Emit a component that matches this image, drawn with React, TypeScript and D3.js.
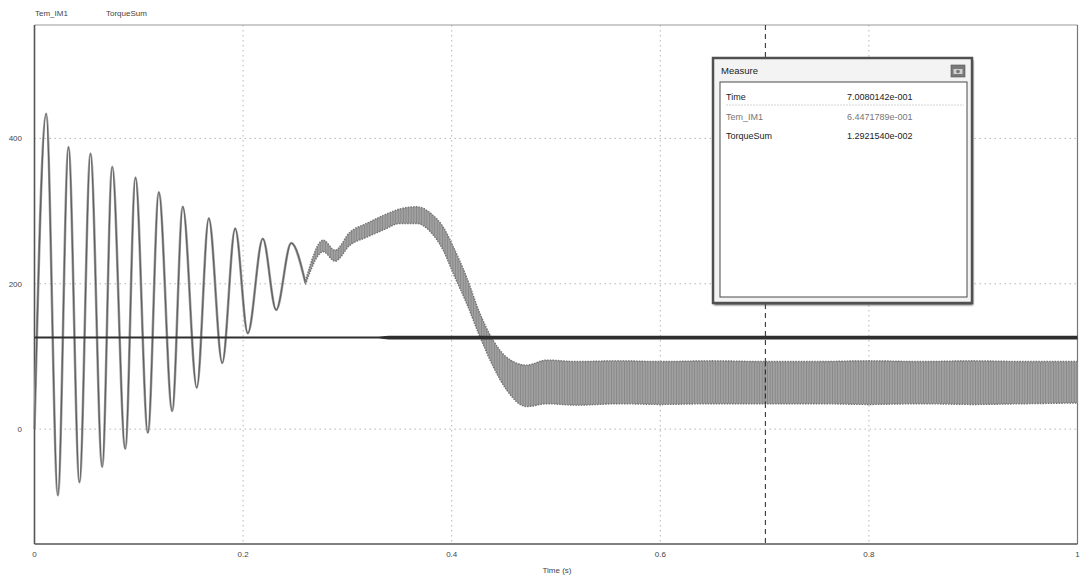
import React from "react";
import * as d3 from "d3";

// ---- data ----
const xTicks = [0, 0.2, 0.4, 0.6, 0.8, 1];
const xTickLabels = ["0", "0.2", "0.4", "0.6", "0.8", "1"];
const yTicks = [0, 200, 400];
const yTickLabels = ["0", "200", "400"];
const seriesNames = ["Tem_IM1", "TorqueSum"];

// Tem_IM1 start-up oscillation (extrema)
const oscTime = [0, 0.0112, 0.0224, 0.0326, 0.0431, 0.0537, 0.0649, 0.0745, 0.087, 0.0968, 0.1087, 0.1192, 0.132, 0.1422, 0.1556, 0.1671, 0.18, 0.1924, 0.2045, 0.2189, 0.2317, 0.2461, 0.2598];
const oscValue = [0, 434, -91, 388, -73, 379, -52, 361, -27, 346, -5, 326, 25, 306, 57, 290, 91, 276, 132, 262, 164, 256, 201];

// Tem_IM1 ripple band (upper / lower envelope)
const bandTime = [0.2598, 0.2769, 0.2881, 0.3024, 0.3184, 0.3344, 0.3504, 0.3664, 0.3823, 0.3919, 0.4015, 0.4143, 0.4271, 0.4398, 0.4526, 0.4718, 0.491, 0.52, 0.56, 0.6, 0.65, 0.7, 0.75, 0.8, 0.85, 0.9, 0.95, 1.0];
const bandHigh = [204, 260, 246, 271, 283, 294, 303, 306, 294, 278, 251, 209, 159, 122, 99, 88, 95, 93, 94, 93, 94, 93, 93, 94, 93, 94, 93, 93];
const bandLow = [199, 244, 231, 253, 264, 274, 283, 283, 267, 246, 214, 173, 127, 86, 54, 31, 35, 33, 35, 34, 35, 35, 35, 34, 35, 34, 35, 36];

// TorqueSum (nearly constant, thin then slightly thicker)
const tsTime = [0, 0.33, 0.34, 1.0];
const tsHigh = [127.6, 127.6, 128.4, 128.4];
const tsLow = [124.6, 124.6, 123.3, 123.3];

// cursor / measure window
const cursorTime = 0.7008;
const measureRows = ["Time", "Tem_IM1", "TorqueSum"];
const measureValues = ["7.0080142e-001", "6.4471789e-001", "1.2921540e-002"];

const W = 1085;
const H = 581;
const FONT = "'Liberation Sans', Arial, sans-serif";

export default function App() {
  const x = d3.scaleLinear().domain([0, 1]).range([34.5, 1077.5]);
  const y = d3.scaleLinear().domain([-158, 556]).range([544, 25]);

  const oscPts: [number, number][] = oscTime.map((t, i) => [t, oscValue[i]]);
  const line = d3
    .line<[number, number]>()
    .x((d) => x(d[0]))
    .y((d) => y(d[1]))
    .curve(d3.curveMonotoneX);

  const bandIdx = bandTime.map((_, i) => i);
  const area = d3
    .area<number>()
    .x((i) => x(bandTime[i]))
    .y0((i) => y(bandLow[i]))
    .y1((i) => y(bandHigh[i]))
    .curve(d3.curveMonotoneX);
  const upper = d3
    .line<number>()
    .x((i) => x(bandTime[i]))
    .y((i) => y(bandHigh[i]))
    .curve(d3.curveMonotoneX);
  const lower = d3
    .line<number>()
    .x((i) => x(bandTime[i]))
    .y((i) => y(bandLow[i]))
    .curve(d3.curveMonotoneX);

  const tsIdx = tsTime.map((_, i) => i);
  const tsArea = d3
    .area<number>()
    .x((i) => x(tsTime[i]))
    .y0((i) => y(tsLow[i]))
    .y1((i) => y(tsHigh[i]));

  const [x0, x1] = x.range();
  const [yb, yt] = y.range();

  // measure box geometry
  const bx = 713, by = 58, bw = 259, bh = 245;
  const ix = 720, iy = 82, iw = 247, ih = 215;

  return (
    <svg
      width={W}
      height={H}
      style={{ position: "absolute", left: 0, top: 0, background: "#fff" }}
      fontFamily={FONT}
    >
      <defs>
        <pattern id="ripple" width="2.6" height="5" patternUnits="userSpaceOnUse">
          <rect width="2.6" height="5" fill="#a0a0a0" />
          <rect x="0" width="0.8" height="5" fill="#858585" />
        </pattern>
        <filter id="shadow" x="-10%" y="-10%" width="120%" height="120%">
          <feGaussianBlur stdDeviation="1.2" />
        </filter>
      </defs>
      <rect width={W} height={H} fill="#fff" />

      {/* legend */}
      {seriesNames.map((s, i) => (
        <text key={s} x={i === 0 ? 35 : 106} y={16} fontSize={8} fill="#444">
          {s}
        </text>
      ))}

      {/* grid */}
      {xTicks.slice(1, -1).map((t) => (
        <line key={"gx" + t} x1={x(t)} x2={x(t)} y1={yt} y2={yb} stroke="#b5b5b5" strokeWidth={1} strokeDasharray="1.5,3.5" />
      ))}
      {yTicks.map((v) => (
        <line key={"gy" + v} x1={x0} x2={x1} y1={y(v)} y2={y(v)} stroke="#b5b5b5" strokeWidth={1} strokeDasharray="1.5,3.5" />
      ))}

      {/* frame */}
      <line x1={x0} x2={x1} y1={yt} y2={yt} stroke="#999" strokeWidth={1} />
      <line x1={x1} x2={x1} y1={yt} y2={yb} stroke="#777" strokeWidth={1.2} />
      <line x1={x0} x2={x0} y1={yt} y2={yb} stroke="#555" strokeWidth={1.6} />
      <line x1={x0} x2={x1} y1={yb} y2={yb} stroke="#555" strokeWidth={1.6} />

      {/* cursor */}
      <line x1={x(cursorTime)} x2={x(cursorTime)} y1={yt} y2={yb} stroke="#444" strokeWidth={1.2} strokeDasharray="5,4" />

      {/* Tem_IM1 oscillation */}
      <path d={line(oscPts) || ""} fill="none" stroke="#a2a2a2" strokeWidth={2.6} />
      <path d={line(oscPts) || ""} fill="none" stroke="#606060" strokeWidth={1.2} />

      {/* Tem_IM1 ripple band */}
      <path d={area(bandIdx) || ""} fill="url(#ripple)" />
      <path d={upper(bandIdx) || ""} fill="none" stroke="#737373" strokeWidth={1.4} strokeDasharray="1.5,1.2" />
      <path d={lower(bandIdx) || ""} fill="none" stroke="#737373" strokeWidth={1.4} strokeDasharray="1.5,1.2" />

      {/* TorqueSum */}
      <path d={tsArea(tsIdx) || ""} fill="#2e2e2e" />

      {/* cursor over the band */}
      <line x1={x(cursorTime)} x2={x(cursorTime)} y1={y(bandHigh[21])} y2={y(bandLow[21])} stroke="#333" strokeWidth={1.2} strokeDasharray="5,3" />

      {/* tick labels */}
      {yTicks.map((v, i) => (
        <text key={"yl" + v} x={22} y={y(v) + 3} fontSize={8} fill="#444" textAnchor="end">
          {yTickLabels[i]}
        </text>
      ))}
      {xTicks.map((t, i) => (
        <text key={"xl" + t} x={x(t)} y={557} fontSize={8} fill="#444" textAnchor="middle">
          {xTickLabels[i]}
        </text>
      ))}
      <text x={557} y={573} fontSize={8} fill="#444" textAnchor="middle">
        Time (s)
      </text>

      {/* measure window */}
      <rect x={bx + 1} y={by + 2} width={bw} height={bh} fill="#444" filter="url(#shadow)" />
      <rect x={bx} y={by} width={bw} height={bh} fill="#f3f3f3" stroke="#505050" strokeWidth={2.5} />
      <text x={721} y={74} fontSize={9.5} fill="#222">
        Measure
      </text>
      <rect x={951} y={65} width={14} height={12} fill="#7a7a7a" stroke="#555" strokeWidth={0.6} />
      <rect x={953.5} y={69} width={9} height={5} fill="#d0d0d0" />
      <circle cx={958} cy={71.5} r={1.8} fill="#777" />
      <rect x={ix} y={iy} width={iw} height={ih} fill="#fff" stroke="#4a4a4a" strokeWidth={1} />
      <line x1={726} x2={964} y1={105} y2={105} stroke="#d4d4d4" strokeWidth={1} strokeDasharray="2,1" />
      {measureRows.map((r, i) => (
        <g key={r}>
          <text x={726} y={100 + i * 19.5} fontSize={9} fill={i === 1 ? "#777" : "#222"}>
            {r}
          </text>
          <text x={847} y={100 + i * 19.5} fontSize={9} fill={i === 1 ? "#777" : "#222"}>
            {measureValues[i]}
          </text>
        </g>
      ))}
    </svg>
  );
}
